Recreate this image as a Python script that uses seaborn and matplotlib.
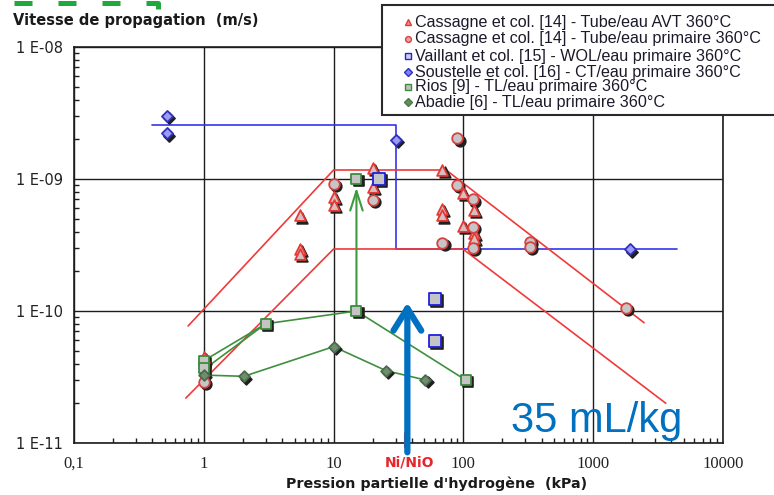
import matplotlib
matplotlib.use("Agg")
import matplotlib.pyplot as plt
import seaborn as sns
from matplotlib.transforms import offset_copy
from matplotlib.lines import Line2D
from matplotlib.patches import Rectangle
from matplotlib.ticker import FixedLocator, NullLocator

# ---------------- data ----------------
avt_x = [1, 5.5, 5.5, 5.5, 10, 10, 20, 20, 69, 68, 68, 99, 99, 121, 121, 121]
avt_y = [4.5e-11, 5.3e-10, 2.95e-10, 2.7e-10, 7.3e-10, 6.4e-10, 1.21e-9, 8.7e-10,
         1.18e-9, 5.9e-10, 5.3e-10, 7.9e-10, 4.4e-10, 5.8e-10, 3.9e-10, 3.6e-10]
prim_x = [1, 10, 20, 90, 88.6, 119, 119, 69, 119, 326, 326, 1786]
prim_y = [2.9e-11, 9.2e-10, 6.9e-10, 2.03e-9, 9.0e-10, 7.0e-10, 4.35e-10, 3.26e-10,
          2.99e-10, 3.35e-10, 3.08e-10, 1.05e-10]
vail_x = [22.2, 60, 60]
vail_y = [1.0e-9, 1.23e-10, 5.95e-11]
sous_x = [0.52, 0.52, 30.4, 1915]
sous_y = [3.0e-9, 2.22e-9, 1.97e-9, 2.93e-10]
rios_x = [1, 1, 3.0, 15, 104, 15]
rios_y = [4.2e-11, 3.7e-11, 8.0e-11, 1.0e-10, 3.0e-11, 1.0e-9]
abadie_x = [1, 2.04, 10, 25.4, 51]
abadie_y = [3.27e-11, 3.2e-11, 5.37e-11, 3.53e-11, 3.0e-11]

env_hi_x = [0.757, 10, 73.6, 2466]
env_hi_y = [7.7e-11, 1.17e-9, 1.17e-9, 8.15e-11]
env_lo_x = [0.727, 10, 99, 3624]
env_lo_y = [2.19e-11, 2.95e-10, 2.95e-10, 2.0e-11]
vail_line_x = [0.396, 30.4, 30.4, 4430]
vail_line_y = [2.56e-9, 2.56e-9, 2.95e-10, 2.95e-10]
rios_line_x = [1, 3.0, 15, 104]
rios_line_y = [4.2e-11, 8.0e-11, 1.0e-10, 3.0e-11]
rios_line2_x = [1, 3.0]
rios_line2_y = [3.6e-11, 8.0e-11]
rios_arrow_x = 15
rios_arrow_y = [1.0e-10, 8.6e-10]
nio_x = 35.2
h2_arrow_x = 37
h2_arrow_y = [8.5e-12, 1.16e-10]

x_ticks = [0.1, 1, 10, 100, 1000, 10000]
x_labels = ["0,1", "1", "10", "100", "1000", "10000"]
y_ticks = [1e-11, 1e-10, 1e-9, 1e-8]
y_labels = ["1 E-11", "1 E-10", "1 E-09", "1 E-08"]
minor_subs = [2, 3, 4, 5, 6, 7, 8, 9]

legend_labels = [
    "Cassagne et col. [14] - Tube/eau AVT 360°C",
    "Cassagne et col. [14] - Tube/eau primaire 360°C",
    "Vaillant et col. [15] - WOL/eau primaire 360°C",
    "Soustelle et col. [16] - CT/eau primaire 360°C",
    "Rios [9] - TL/eau primaire 360°C",
    "Abadie [6] - TL/eau primaire 360°C",
]

# ---------------- style ----------------
sns.set_theme(style="ticks")
plt.rcParams["font.family"] = ["DejaVu Sans"]

W, H = 774, 495
fig = plt.figure(figsize=(W / 100, H / 100), dpi=100)
ax = fig.add_axes([74 / W, 1 - 443 / H, (723 - 74) / W, (443 - 47) / H])
ax.set_xscale("log")
ax.set_yscale("log")
ax.set_xlim(0.1, 1e4)
ax.set_ylim(1e-11, 1e-8)

RED_L = "#F03A3A"
BLUE_L = "#3434EE"
GREEN_L = "#3F8F3F"

# lines
sns.lineplot(x=vail_line_x, y=vail_line_y, sort=False, estimator=None, color=BLUE_L, lw=1.2, ax=ax, zorder=2)
sns.lineplot(x=env_hi_x, y=env_hi_y, sort=False, estimator=None, color=RED_L, lw=1.2, ax=ax, zorder=2)
sns.lineplot(x=env_lo_x, y=env_lo_y, sort=False, estimator=None, color=RED_L, lw=1.2, ax=ax, zorder=2)
sns.lineplot(x=rios_line_x, y=rios_line_y, sort=False, estimator=None, color=GREEN_L, lw=1.2, ax=ax, zorder=2)
sns.lineplot(x=rios_line2_x, y=rios_line2_y, sort=False, estimator=None, color=GREEN_L, lw=1.2, ax=ax, zorder=2)
sns.lineplot(x=abadie_x, y=abadie_y, sort=False, estimator=None, color=GREEN_L, lw=1.2, ax=ax, zorder=2)

ax.annotate("", xy=(rios_arrow_x, rios_arrow_y[1]), xytext=(rios_arrow_x, rios_arrow_y[0]),
            arrowprops=dict(arrowstyle="->,head_length=1.4,head_width=0.45", color="#3E9A3E",
                            lw=1.5, mutation_scale=10, shrinkA=0, shrinkB=0), zorder=2)

shadow = offset_copy(ax.transData, fig=fig, x=1.6, y=-1.6, units="points")

series = [
    (avt_x, avt_y, "^", 60, "#D6BFBF", "#E53935"),
    (prim_x, prim_y, "o", 58, "#C6C6C6", "#D94040"),
    (vail_x, vail_y, "s", 72, "#C4C4C4", "#2020E0"),
    (sous_x, sous_y, "D", 32, "#9C9CF2", "#3030C0"),
    (rios_x, rios_y, "s", 58, "#C4C4C4", "#3C8C3C"),
    (abadie_x, abadie_y, "D", 30, "#6E8E6E", "#4A6A4A"),
]
for xs, ys, m, s, fc, ec in series:
    sns.scatterplot(x=xs, y=ys, marker=m, s=s, color="#202020", edgecolor="#202020",
                    linewidth=1.2, ax=ax, transform=shadow, zorder=3, legend=False)
    sns.scatterplot(x=xs, y=ys, marker=m, s=s, color=fc, edgecolor=ec,
                    linewidth=1.3, ax=ax, zorder=4, legend=False)

# Ni/NiO marker on axis
ax.plot([nio_x, nio_x], [1.19e-11, 9.3e-12], color="#E8252A", lw=1.5, clip_on=False, zorder=5)
# big blue arrow
ax.annotate("", xy=(h2_arrow_x, h2_arrow_y[1]), xytext=(h2_arrow_x, h2_arrow_y[0]),
            arrowprops=dict(arrowstyle="->,head_length=0.8,head_width=0.5", color="#0070C0",
                            lw=4.5, mutation_scale=20, shrinkA=0, shrinkB=0),
            annotation_clip=False, zorder=6)

# axes styling
ax.xaxis.set_major_locator(FixedLocator(x_ticks))
ax.yaxis.set_major_locator(FixedLocator(y_ticks))
ax.set_xticklabels(x_labels, fontfamily="Liberation Serif", fontsize=12, color="#222222")
ax.set_yticklabels(y_labels, fontsize=10.5, color="#222222")
ax.xaxis.set_minor_locator(NullLocator())
ax.yaxis.set_minor_locator(NullLocator())
ax.tick_params(axis="x", which="major", length=0, pad=9)
ax.tick_params(axis="y", which="major", length=0, pad=8)
# inward minor tick marks on the bottom and left axes (log sub-decades)
x_minor = [s * t for t in x_ticks[:-1] for s in minor_subs]
y_minor = [s * t for t in y_ticks[:-1] for s in minor_subs]
ax.vlines(x_minor, 0, 0.013, transform=ax.get_xaxis_transform(), color="#1c1c1c", lw=1.0, zorder=1.8)
ax.hlines(y_minor, 0, 0.008, transform=ax.get_yaxis_transform(), color="#1c1c1c", lw=1.0, zorder=1.8)
ax.grid(True, which="major", color="#1c1c1c", lw=1.0)
for sp in ax.spines.values():
    sp.set_visible(True)
    sp.set_color("#1c1c1c")
    sp.set_linewidth(1.2)
ax.set_xlabel("")
ax.set_ylabel("")

# texts
fig.text(13 / W, 1 - 21 / H, "Vitesse de propagation  (m/s)", fontsize=10.5, fontweight="bold",
         color="#1a1a1a", va="center", ha="left")
fig.text(437 / W, 1 - 484 / H, "Pression partielle d'hydrogène  (kPa)", fontsize=10.3,
         fontweight="bold", color="#1a1a1a", va="center", ha="center")
fig.text(409 / W, 1 - 462 / H, "Ni/NiO", fontsize=10, fontweight="bold", color="#E8252A",
         va="center", ha="center")
fig.text(511 / W, 1 - 432 / H, "35 mL/kg", fontsize=30, color="#0070C0",
         family=["Liberation Sans"], va="baseline", ha="left", zorder=7)

# dashed green frame fragment at top-left
fig.add_artist(Line2D([158 / W, 158 / W, 0], [1 - 9 / H, 1 - 3 / H, 1 - 3 / H], color="#1FA83C",
                      lw=3.6, ls=(0, (3.6, 5.2)), solid_capstyle="butt", dash_capstyle="butt"))

# legend (manual box)
fig.add_artist(Rectangle((382 / W, 1 - 115 / H), (800 - 382) / W, (115 - 5) / H,
                         transform=fig.transFigure, facecolor="white", edgecolor="#2a2a2a",
                         lw=1.5, zorder=8, clip_on=False))
leg_markers = [("^", "#F08A8A", "#E53935"), ("o", "#F0A0A0", "#D94040"), ("s", "#D0D0E8", "#2020E0"),
               ("D", "#8080F0", "#3030C0"), ("s", "#C0C0C0", "#3C8C3C"), ("D", "#5E8E5E", "#4A7A4A")]
rows = [22, 39, 56, 72, 87, 102]
for (m, fc, ec), lab, ry in zip(leg_markers, legend_labels, rows):
    fig.add_artist(Line2D([408 / W], [1 - ry / H], marker=m, markersize=4.2 if m != "D" else 3.6,
                          markerfacecolor=fc, markeredgecolor=ec, markeredgewidth=1.0,
                          ls="none", zorder=9))
    fig.text(415 / W, 1 - ry / H, lab, fontsize=11.6, family=["Liberation Sans"], color="#1a1a2a",
             va="center", ha="left", zorder=9)

fig.savefig("out.png", dpi=100)
